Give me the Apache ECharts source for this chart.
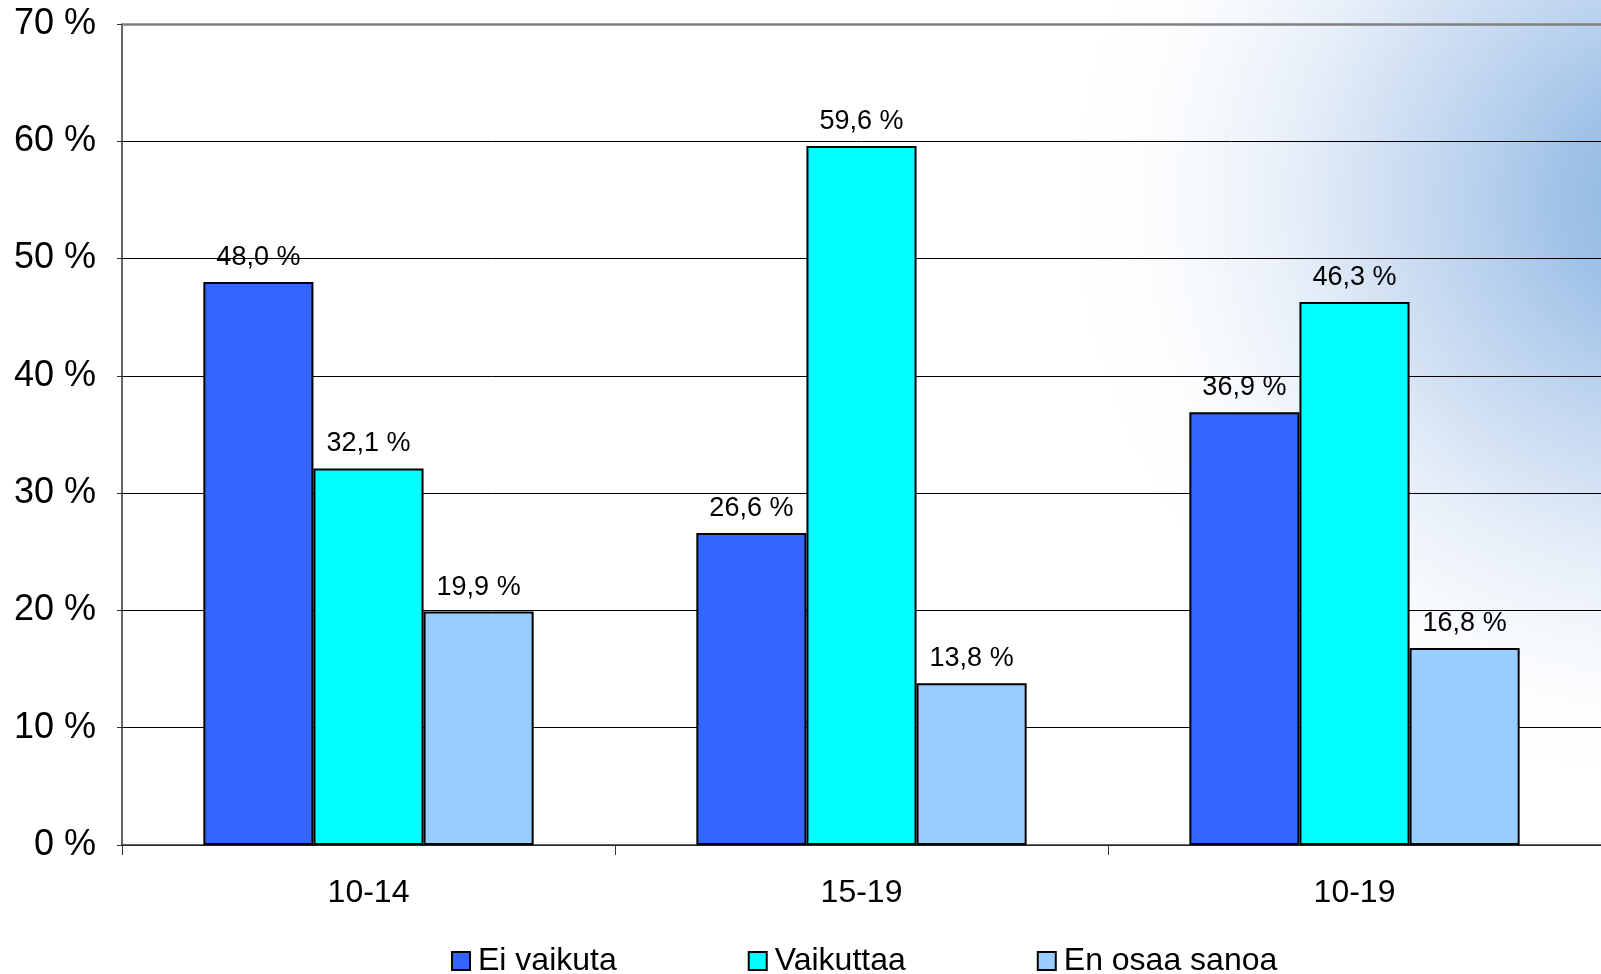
<!DOCTYPE html>
<html>
<head>
<meta charset="utf-8">
<script src="https://cdn.jsdelivr.net/npm/echarts@6/dist/echarts.min.js"></script>
<style>
html,body{margin:0;padding:0;background:#fff;}
#chart{width:1601px;height:974px;}
</style>
</head>
<body>
<div id="chart"></div>
<script>
const categories = ['10-14', '15-19', '10-19'];
const seriesNames = ['Ei vaikuta', 'Vaikuttaa', 'En osaa sanoa'];
const eiVaikuta = [48.0, 26.6, 36.9];
const vaikuttaa = [32.1, 59.6, 46.3];
const enOsaaSanoa = [19.9, 13.8, 16.8];
const colors = ['#3366FF', '#00FFFF', '#99CCFF'];
const yTicks = [0, 10, 20, 30, 40, 50, 60, 70];

const FONT = 'Liberation Sans, Arial, sans-serif';
const chart = echarts.init(document.getElementById('chart'), null, {renderer: 'canvas'});

function fmt(v) { return v.toFixed(1).replace('.', ',') + ' %'; }

const dataSets = [eiVaikuta, vaikuttaa, enOsaaSanoa];
const series = dataSets.map((d, i) => ({
  name: seriesNames[i],
  type: 'bar',
  data: d,
  barGap: '0%',
  barCategoryGap: '33%',
  itemStyle: { color: colors[i], borderColor: '#000', borderWidth: 2 },
  label: {
    show: true, position: 'top', distance: 11,
    formatter: p => fmt(p.value),
    fontFamily: FONT, fontSize: 27, color: '#000'
  },
  z: 3
}));
series[0].markLine = {
  silent: true, symbol: 'none', label: { show: false },
  lineStyle: { color: '#808080', width: 2.5, type: 'solid' },
  data: [{ yAxis: yTicks[yTicks.length - 1] }]
};

chart.setOption({
  animation: false,
  backgroundColor: '#fff',
  graphic: [{
    type: 'circle',
    x: 1680, y: 200,
    scaleX: 1.05, scaleY: 1.0,
    shape: { cx: 0, cy: 0, r: 600 },
    style: {
      fill: new echarts.graphic.RadialGradient(0.5, 0.5, 0.5, [
        { offset: 0, color: 'rgba(140,182,228,1)' },
        { offset: 0.18, color: 'rgba(158,193,231,1)' },
        { offset: 0.5, color: 'rgba(205,221,242,0.85)' },
        { offset: 1, color: 'rgba(255,255,255,0)' }
      ])
    },
    z: -10, silent: true
  }],
  grid: { left: 122, right: -3, top: 24, bottom: 129, containLabel: false },
  legend: {
    data: seriesNames,
    bottom: -8,
    left: 446,
    itemWidth: 18, itemHeight: 18, itemGap: 131,
    icon: 'rect',
    itemStyle: { borderColor: '#000', borderWidth: 2 },
    textStyle: { fontFamily: FONT, fontSize: 32, color: '#000', padding: [0,0,0,3] }
  },
  xAxis: {
    type: 'category',
    data: categories,
    axisLine: { lineStyle: { color: '#333', width: 1.5 } },
    axisTick: { show: true, length: 10, lineStyle: { color: '#333' } },
    axisLabel: { fontFamily: FONT, fontSize: 32, color: '#000', margin: 32 }
  },
  yAxis: {
    type: 'value',
    min: 0, max: 70, interval: 10,
    axisLine: { show: true, lineStyle: { color: '#333', width: 1.5 } },
    axisTick: { show: true, length: 5, lineStyle: { color: '#333' } },
    axisLabel: {
      fontFamily: FONT, fontSize: 36, color: '#000', margin: 26,
      formatter: v => yTicks.indexOf(v) >= 0 ? v + ' %' : ''
    },
    splitLine: { lineStyle: { color: '#000', width: 1 } }
  },
  series: series
});
</script>
</body>
</html>
